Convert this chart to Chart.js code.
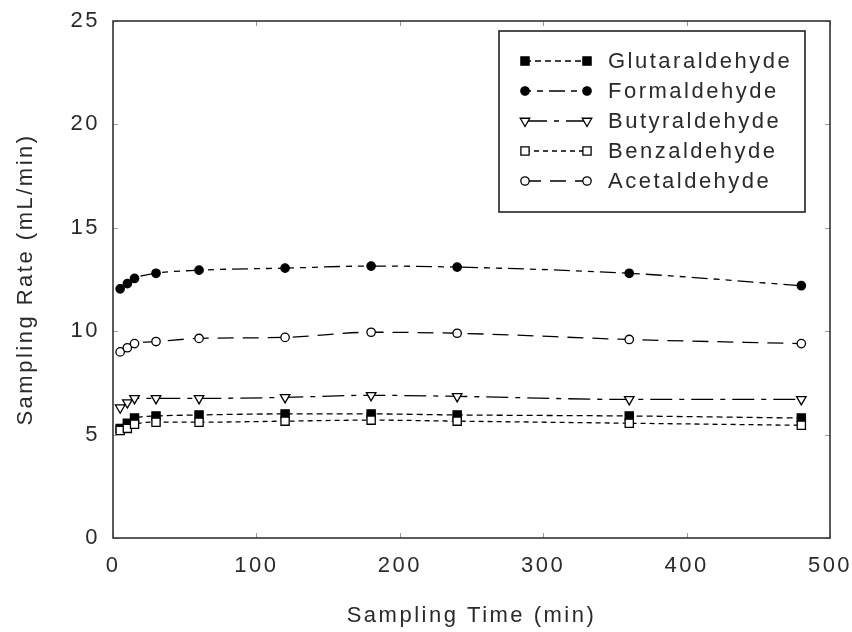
<!DOCTYPE html>
<html>
<head>
<meta charset="utf-8">
<title>Sampling Rate vs Sampling Time</title>
<script src="https://cdn.jsdelivr.net/npm/chart.js@4.4.1/dist/chart.umd.min.js"></script>
<style>
  html, body { margin: 0; padding: 0; background: #fff; }
  #wrap { width: 852px; height: 632px; position: relative; }
</style>
</head>
<body>
<div id="wrap"><canvas id="chart"></canvas></div>
<script>
// sampling times (min)
const times = [5, 10, 15, 30, 60, 120, 180, 240, 360, 480];

// sampling rates (mL/min)
const glutaraldehyde = [5.3, 5.55, 5.8, 5.9, 5.95, 6.0, 6.0, 5.95, 5.9, 5.8];
const formaldehyde   = [12.05, 12.3, 12.55, 12.8, 12.95, 13.05, 13.15, 13.1, 12.8, 12.2];
const butyraldehyde  = [6.3, 6.55, 6.75, 6.75, 6.75, 6.8, 6.9, 6.85, 6.7, 6.7];
const benzaldehyde   = [5.2, 5.3, 5.5, 5.6, 5.6, 5.65, 5.7, 5.65, 5.55, 5.45];
const acetaldehyde   = [9.0, 9.2, 9.4, 9.5, 9.65, 9.7, 9.95, 9.9, 9.6, 9.4];

const xTicks = [0, 100, 200, 300, 400, 500];
const yTicks = [0, 5, 10, 15, 20, 25];

const FONT = 'Liberation Sans, Arial, sans-serif';
const TEXT = '#2a2a2a';

function pts(vals) {
  return vals.map((v, i) => ({ x: times[i], y: v }));
}

function series(label, vals, style, fill, dash, radius, rotation, order) {
  return {
    label: label,
    data: pts(vals),
    borderColor: '#000',
    borderWidth: 1.3,
    borderDash: dash,
    pointStyle: style,
    pointRadius: radius,
    pointRotation: rotation || 0,
    pointBackgroundColor: fill,
    pointBorderColor: '#000',
    pointBorderWidth: 1.3,
    cubicInterpolationMode: 'monotone',
    fill: false,
    order: order
  };
}

const datasets = [
  series('Glutaraldehyde', glutaraldehyde, 'rect', '#000', [6, 4], 5.8, 0, 1),
  series('Formaldehyde', formaldehyde, 'circle', '#000', [6, 6, 6, 6, 16, 6], 4.2, 0, 1),
  series('Butyraldehyde', butyraldehyde, 'triangle', '#fff', [22, 7, 5, 7], 5.5, 180, 1),
  series('Benzaldehyde', benzaldehyde, 'rect', '#fff', [5, 4], 5.8, 0, 0),
  series('Acetaldehyde', acetaldehyde, 'circle', '#fff', [16, 9], 4.2, 0, 1)
];

// letter spacing like the original bitmap font
const spacingPlugin = {
  id: 'spacing',
  beforeUpdate(chart) { chart.ctx.letterSpacing = '2.5px'; },
  beforeDraw(chart) { chart.ctx.letterSpacing = '2.5px'; }
};

// plot box with inward ticks + legend with line samples
const framePlugin = {
  id: 'frame',
  afterDraw(chart) {
    const ctx = chart.ctx;
    const a = chart.chartArea;
    const xs = chart.scales.x, ys = chart.scales.y;
    ctx.save();
    // inward ticks
    ctx.strokeStyle = '#999';
    ctx.lineWidth = 1;
    ctx.beginPath();
    xTicks.forEach(t => {
      const px = Math.round(xs.getPixelForValue(t)) + 0.5;
      ctx.moveTo(px, a.bottom); ctx.lineTo(px, a.bottom - 5);
      ctx.moveTo(px, a.top); ctx.lineTo(px, a.top + 5);
    });
    yTicks.forEach(t => {
      const py = Math.round(ys.getPixelForValue(t)) + 0.5;
      ctx.moveTo(a.left, py); ctx.lineTo(a.left + 5, py);
      ctx.moveTo(a.right, py); ctx.lineTo(a.right - 5, py);
    });
    ctx.stroke();
    // box
    ctx.strokeStyle = '#333';
    ctx.lineWidth = 1.6;
    ctx.strokeRect(a.left, a.top, a.right - a.left, a.bottom - a.top);

    // legend
    const lx = 499, ly = 31, lw = 306, lh = 181;
    ctx.fillStyle = '#fff';
    ctx.fillRect(lx, ly, lw, lh);
    ctx.strokeStyle = '#222';
    ctx.lineWidth = 1.6;
    ctx.strokeRect(lx, ly, lw, lh);
    ctx.font = '22px ' + FONT;
    ctx.textBaseline = 'middle';
    ctx.textAlign = 'left';
    chart.data.datasets.forEach((ds, i) => {
      const y = 61 + i * 30;
      ctx.save();
      ctx.strokeStyle = '#000';
      ctx.lineWidth = 1.3;
      ctx.setLineDash(ds.borderDash);
      ctx.beginPath();
      ctx.moveTo(525, y); ctx.lineTo(587, y);
      ctx.stroke();
      ctx.restore();
      [525, 587].forEach(px => {
        ctx.save();
        ctx.fillStyle = ds.pointBackgroundColor;
        ctx.strokeStyle = '#000';
        ctx.lineWidth = 1.3;
        ctx.setLineDash([]);
        Chart.helpers.drawPoint(ctx, {
          pointStyle: ds.pointStyle,
          radius: ds.pointRadius,
          rotation: ds.pointRotation,
          borderWidth: 1.3
        }, px, y);
        ctx.restore();
      });
      ctx.fillStyle = TEXT;
      ctx.fillText(ds.label, 608, y + 1);
    });
    ctx.restore();
  }
};

new Chart(document.getElementById('chart'), {
  type: 'line',
  data: { datasets: datasets },
  plugins: [spacingPlugin, framePlugin],
  options: {
    responsive: true,
    maintainAspectRatio: false,
    animation: false,
    layout: { padding: { left: 0, top: 21, right: 22, bottom: 0 } },
    plugins: {
      legend: { display: false },
      tooltip: { enabled: false }
    },
    scales: {
      x: {
        type: 'linear',
        min: 0,
        max: 500,
        afterBuildTicks: s => { s.ticks = xTicks.map(v => ({ value: v })); },
        afterFit: s => { s.height = 94; s.paddingLeft = 0; s.paddingRight = 0; },
        grid: { display: false, drawTicks: false },
        border: { display: false },
        ticks: {
          color: TEXT,
          font: { family: FONT, size: 22 },
          padding: 15,
          maxRotation: 0
        },
        title: {
          display: true,
          text: 'Sampling Time (min)',
          color: TEXT,
          font: { family: FONT, size: 22 },
          padding: { top: 0, bottom: 3 }
        }
      },
      y: {
        min: 0,
        max: 25,
        afterBuildTicks: s => { s.ticks = yTicks.map(v => ({ value: v })); },
        afterFit: s => { s.width = 113; s.paddingTop = 0; s.paddingBottom = 0; },
        grid: { display: false, drawTicks: false },
        border: { display: false },
        ticks: {
          color: TEXT,
          font: { family: FONT, size: 22 },
          padding: 13
        },
        title: {
          display: true,
          text: 'Sampling Rate (mL/min)',
          color: TEXT,
          font: { family: FONT, size: 22 },
          padding: { top: 13, bottom: 0 }
        }
      }
    }
  }
});
</script>
</body>
</html>
